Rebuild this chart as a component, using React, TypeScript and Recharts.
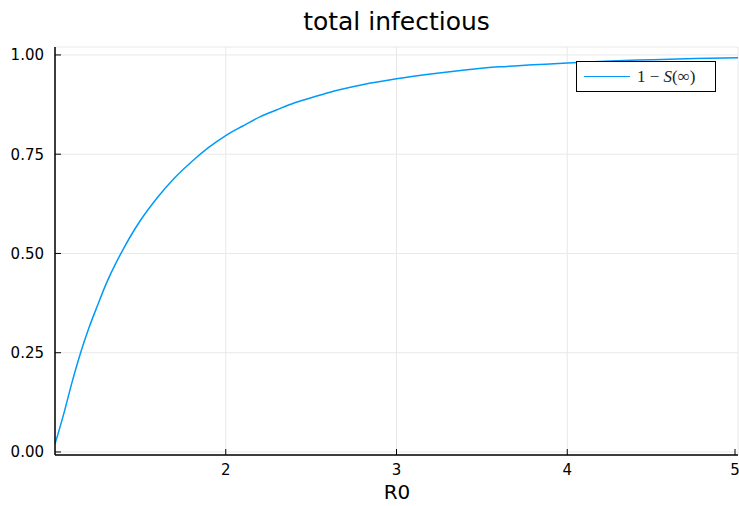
import { LineChart, Line, XAxis, YAxis, CartesianGrid } from "recharts"

// values
const r0 = [
  1.0, 1.05, 1.1, 1.15, 1.2, 1.25, 1.3, 1.35, 1.4, 1.45, 1.5, 1.6, 1.7, 1.8, 1.9, 2.0, 2.1, 2.2, 2.3, 2.4, 2.5,
  2.6, 2.8, 3.0, 3.2, 3.4, 3.6, 3.8, 4.0, 4.25, 4.5, 4.75, 5.0,
]
const infected = [
  0.02, 0.094, 0.176, 0.25, 0.314, 0.37, 0.424, 0.47, 0.511, 0.549, 0.583, 0.641, 0.69, 0.731, 0.767, 0.797, 0.821,
  0.844, 0.862, 0.879, 0.892, 0.905, 0.925, 0.94, 0.952, 0.962, 0.97, 0.975, 0.98, 0.985, 0.988, 0.991, 0.993,
]
const xTicks = [2, 3, 4, 5]
const yTicks = [0, 0.25, 0.5, 0.75, 1]

const data = r0.map((x, i) => ({ r0: x, v: infected[i] }))

const font = "'DejaVu Sans', sans-serif"

function YTick(props: any) {
  const { x, y, payload } = props
  return (
    <g>
      <line x1={x} x2={x + 6} y1={y} y2={y} stroke="#000" strokeWidth={1} />
      <text x={x - 11} y={y} dy="0.36em" textAnchor="end" fontSize={15} fontFamily={font} fill="#000">
        {Number(payload.value).toFixed(2)}
      </text>
    </g>
  )
}

function XTick(props: any) {
  const { x, y, payload } = props
  return (
    <g>
      <line x1={x} x2={x} y1={y} y2={y - 6} stroke="#000" strokeWidth={1} />
      <text x={x} y={y + 20} textAnchor="middle" fontSize={15} fontFamily={font} fill="#000">
        {payload.value}
      </text>
    </g>
  )
}

export default function App() {
  return (
    <div style={{ position: "fixed", left: 0, top: 0, width: 739, height: 506, background: "#fff", overflow: "hidden" }}>
      <div
        style={{
          position: "absolute",
          left: 0,
          width: 793,
          top: 8,
          textAlign: "center",
          fontFamily: font,
          fontSize: 25,
          color: "#000",
          lineHeight: "28px",
        }}
      >
        total infectious
      </div>
      <LineChart width={739} height={506} data={data} margin={{ top: 47, right: 1, bottom: 0, left: 0 }}>
        <CartesianGrid stroke="#e8e8e8" strokeWidth={1} horizontal vertical />
        <XAxis
          dataKey="r0"
          type="number"
          domain={[1, 5]}
          ticks={xTicks}
          allowDataOverflow
          height={51}
          tickSize={0}
          tickMargin={0}
          tickLine={false}
          tick={<XTick />}
          axisLine={{ stroke: "#000", strokeWidth: 1.5 }}
        />
        <YAxis
          type="number"
          domain={[-0.0076, 1.02]}
          ticks={yTicks}
          allowDataOverflow
          width={55}
          tickSize={0}
          tickMargin={0}
          tickLine={false}
          tick={<YTick />}
          axisLine={{ stroke: "#000", strokeWidth: 1.5 }}
        />
        <Line
          dataKey="v"
          type="monotone"
          stroke="#009AFA"
          strokeWidth={1.5}
          dot={false}
          isAnimationActive={false}
        />
      </LineChart>
      <div
        style={{
          position: "absolute",
          left: 576,
          top: 61,
          width: 138,
          height: 29,
          border: "1px solid #000",
          background: "#fff",
          display: "flex",
          alignItems: "center",
        }}
      >
        <div style={{ width: 46, height: 0, borderTop: "1.5px solid #009AFA", marginLeft: 7, marginRight: 7 }} />
        <span style={{ fontFamily: "'Liberation Serif', serif", fontSize: 17, color: "#222" }}>
          1 − <i>S</i>(∞)
        </span>
      </div>
      <div
        style={{
          position: "absolute",
          left: 347,
          width: 100,
          top: 481,
          textAlign: "center",
          fontFamily: font,
          fontSize: 20,
          color: "#000",
          lineHeight: "22px",
        }}
      >
        R0
      </div>
    </div>
  )
}
